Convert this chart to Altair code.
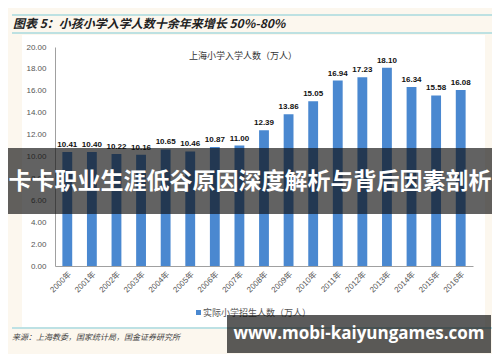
import altair as alt
import pandas as pd

years = ["2000年", "2001年", "2002年", "2003年", "2004年", "2005年", "2006年", "2007年", "2008年",
         "2009年", "2010年", "2011年", "2012年", "2013年", "2014年", "2015年", "2016年"]
values = [10.41, 10.40, 10.22, 10.16, 10.65, 10.46, 10.87, 11.00, 12.39,
          13.86, 15.05, 16.94, 17.23, 18.10, 16.34, 15.58, 16.08]
y_ticks = [0, 2, 4, 6, 8, 10, 12, 14, 16, 18, 20]

header_text = "图表 5：小孩小学入学人数十余年来增长 50%-80%"
chart_title = "上海小学入学人数（万人）"
legend_text = "实际小学招生人数（万人）"
source_text = "来源：上海教委，国家统计局，国金证券研究所"
banner_text = "卡卡职业生涯低谷原因深度解析与背后因素剖析"
watermark_text = "www.mobi-kaiyungames.com"

FONT = "Liberation Sans, Noto Sans CJK SC"
CJK = "Noto Sans CJK SC"

df = pd.DataFrame({"year": years, "value": values})
one = pd.DataFrame({"k": [0]})

W, H = 418, 219
CREAM = "#fcf7ee"
TEAL = "#7fcbd5"

x_enc = alt.X("year:N", sort=years,
              scale=alt.Scale(paddingInner=0.6, paddingOuter=0.3),
              axis=alt.Axis(title=None, labelAngle=-45, ticks=False, domainColor="#a0a0a0",
                            labelColor="#555555", labelFontSize=8, labelPadding=4, labelFont=FONT))
y_enc = alt.Y("value:Q", scale=alt.Scale(domain=[0, 20], nice=False),
              axis=alt.Axis(title=None, values=y_ticks, format=".2f", grid=False, ticks=False,
                            domainColor="#a0a0a0", labelColor="#555555", labelFontSize=8,
                            labelPadding=9, labelFont=FONT))


def rect(x, x2, y, y2, color, opacity=1.0):
    return alt.Chart(one).mark_rect(color=color, opacity=opacity).encode(
        x=alt.value(x), x2=alt.value(x2), y=alt.value(y), y2=alt.value(y2))


def hline(x, x2, y, color, width=1.2):
    return alt.Chart(one).mark_rule(color=color, strokeWidth=width).encode(
        x=alt.value(x), x2=alt.value(x2), y=alt.value(y))


def text(x, y, t, **kw):
    return alt.Chart(one).mark_text(text=t, **kw).encode(x=alt.value(x), y=alt.value(y))


layers = [
    rect(-47, -33, -39, 307, CREAM),
    rect(430, 437, -39, 307, CREAM),
    rect(-47, 437, -39, -12, CREAM),
    rect(-47, 437, 280, 307, CREAM),
    hline(-43, 437, -32, TEAL),
    hline(-43, 437, -14, TEAL),
    hline(-43, 437, 281, "#a8dae0", 1.5),
    text(-42, -23, header_text, font=CJK, fontSize=12, fontWeight="bold", fontStyle="italic",
         color="#222222", align="left", baseline="middle"),
    alt.Chart(df).mark_bar(color="#4a88d0").encode(x=x_enc, y=y_enc),
    alt.Chart(df).mark_text(dy=-7, fontSize=8, fontWeight="bold", color="#111111", font=FONT).encode(
        x=x_enc, y=y_enc, text=alt.Text("value:Q", format=".2f")),
    text(188, 9, chart_title, font=CJK, fontSize=9, color="#333333", align="center", baseline="middle"),
    rect(141, 146, 263, 268, "#4a88d0"),
    text(148, 266, legend_text, font=CJK, fontSize=9, color="#555555", align="left", baseline="middle"),
    text(-43, 291, source_text, font=CJK, fontSize=8, fontStyle="italic", color="#444444",
         align="left", baseline="middle"),
    rect(-47, 437, 101, 167, "#0e0e0e", 0.65),
    text(195, 135, banner_text, font=CJK, fontSize=23, fontWeight="bold", color="#ffffff",
         align="center", baseline="middle"),
    rect(172, 436, 268, 306, "#0e0e0e", 0.68),
    text(304, 287, watermark_text, font="Open Sans", fontSize=17, fontWeight="bold", color="#ffffff",
         align="center", baseline="middle"),
]

chart = alt.layer(*layers).properties(
    width=W, height=H,
    padding={"left": 47, "top": 39, "right": 19, "bottom": 88},
    autosize=alt.AutoSizeParams(type="none"),
    background="#ffffff",
).configure_view(stroke=None)

chart.save("out.html", embed_options={"renderer": "svg", "actions": False})
